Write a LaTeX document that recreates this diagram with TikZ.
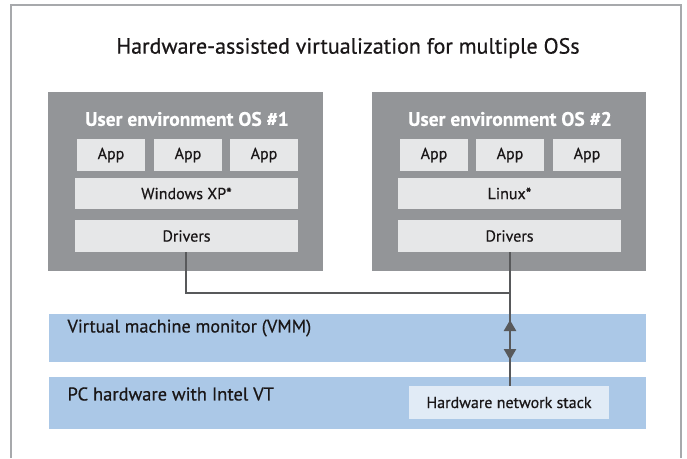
\documentclass[tikz,border=0pt]{standalone}
\usepackage{fontspec}
\setmainfont[FakeBold=0.6]{PT Sans}
\newfontfamily\boldface[FakeBold=0.3]{PT Sans Bold}
\usetikzlibrary{arrows.meta}
\definecolor{osgray}{HTML}{939598}
\definecolor{lightbox}{HTML}{E6E7E8}
\definecolor{band}{HTML}{ABC8E7}
\definecolor{stackbox}{HTML}{E1EBF6}
\definecolor{linegray}{HTML}{58595B}
\definecolor{framegray}{HTML}{A7A9AC}
\definecolor{txt}{HTML}{1A1718}
\begin{document}
\begin{tikzpicture}[x=1pt,y=-1pt,
  osbox/.style={fill=osgray, draw=none, inner sep=0pt},
  item/.style={fill=lightbox, draw=none, inner sep=0pt, text=txt, font=\fontsize{16}{18}\selectfont},
  bandbox/.style={fill=band, draw=none, inner sep=0pt},
  conn/.style={draw=linegray, line width=2.4pt},
  head/.style={color=linegray, line width=2.4pt, -{Triangle[length=11pt,width=12pt]}}
]
\useasboundingbox (0,0) rectangle (687,458);
\fill[white] (0,0) rectangle (687,458);
% frame
\draw[framegray, line width=1.3pt] (11,458) -- (11,5) -- (681,5) -- (681,458);
% title
\node[text=txt, font=\fontsize{22}{25}\selectfont] (title) at (348,48) {Hardware-assisted virtualization for multiple OSs};

% OS boxes
\path[osbox] (48,92) rectangle (323,271);
\node[text=white, font=\fontsize{19.5}{22}\selectfont\bfseries] (os1t) at (187,119) {User environment OS \#1};
\path[osbox] (372,92) rectangle (646,271);
\node[text=white, font=\fontsize{19.5}{22}\selectfont\bfseries] (os2t) at (510,119) {User environment OS \#2};

% OS1 contents
\node[item, minimum width=68pt, minimum height=32pt] (a11) at (111,155) {App};
\node[item, minimum width=68pt, minimum height=32pt] (a12) at (188,155) {App};
\node[item, minimum width=68pt, minimum height=32pt] (a13) at (264,155) {App};
\node[item, minimum width=223pt, minimum height=31pt] (w1) at (186.5,193.5) {Windows XP*};
\node[item, minimum width=223pt, minimum height=32pt] (d1) at (186.5,236) {Drivers};

% OS2 contents
\node[item, minimum width=68pt, minimum height=32pt] (a21) at (434,155) {App};
\node[item, minimum width=68pt, minimum height=32pt] (a22) at (510,155) {App};
\node[item, minimum width=68pt, minimum height=32pt] (a23) at (587,155) {App};
\node[item, minimum width=223pt, minimum height=31pt] (w2) at (509.5,193.5) {Linux*};
\node[item, minimum width=223pt, minimum height=32pt] (d2) at (509.5,236) {Drivers};

% bands
\node[bandbox, minimum width=597pt, minimum height=48pt] (vmm) at (347,338) {};
\node[anchor=west, text=txt, font=\fontsize{18.2}{21}\selectfont] (vmmt) at (64,328) {Virtual machine monitor (VMM)};
\node[bandbox, minimum width=597pt, minimum height=52pt] (hw) at (347,403) {};
\node[anchor=west, text=txt, font=\fontsize{18.5}{21}\selectfont] (hwt) at (64,394) {PC hardware with Intel VT};
\node[fill=stackbox, inner sep=0pt, minimum width=200pt, minimum height=33pt, text=txt, font=\fontsize{16}{18}\selectfont] (stack) at (509,402.5) {Hardware network stack};

% connectors
\coordinate (j) at (510,293);
\coordinate (mid) at (510,340);
\draw[conn] (d1.south -| 186,0) |- (j);
\draw[conn] (d2.south -| 510,0) -- (stack.north -| 510,0);
\draw[head] (mid) -- (510,320);
\draw[head] (mid) -- (510,360);
\end{tikzpicture}
\end{document}
